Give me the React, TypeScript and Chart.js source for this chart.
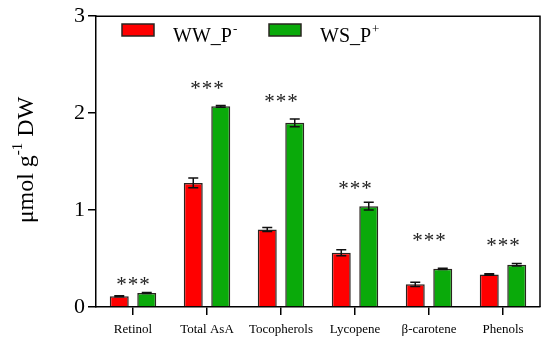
import React, { useEffect, useRef } from 'react';
import { Chart, registerables } from 'chart.js';
Chart.register(...registerables);

const categories = ['Retinol', 'Total AsA', 'Tocopherols', 'Lycopene', 'β-carotene', 'Phenols'];
const wwValues = [0.11, 1.28, 0.8, 0.56, 0.234, 0.336];
const wwErrors = [0.005, 0.05, 0.02, 0.03, 0.022, 0.008];
const wsValues = [0.145, 2.07, 1.9, 1.04, 0.394, 0.437];
const wsErrors = [0.005, 0.01, 0.04, 0.04, 0.006, 0.013];
const starLevels = [0.275, 2.3, 2.157, 1.264, 0.732, 0.671];
const starText = '***';
const seriesNames = ['WW_P', 'WS_P'];
const seriesSup = ['-', '+'];
const yTickValues = [0, 1, 2, 3];
const yTitleMain = 'μmol g';
const yTitleSup = '-1';
const yTitleEnd = ' DW';

const RED = '#FF0000';
const GREEN = '#0AAA0A';
const EDGE = '#2a2420';
const FONT = "'Liberation Serif', 'Times New Roman', serif";

const overlayPlugin = {
  id: 'overlay',
  afterDatasetsDraw(chart: any) {
    const ctx = chart.ctx;
    const ys = chart.scales.y;
    const xs = chart.scales.x;
    const area = chart.chartArea;
    const errs = [wwErrors, wsErrors];
    const vals = [wwValues, wsValues];
    ctx.save();
    // error bars
    ctx.strokeStyle = '#111';
    ctx.lineWidth = 1.5;
    for (let d = 0; d < 2; d++) {
      const meta = chart.getDatasetMeta(d);
      meta.data.forEach((el: any, j: number) => {
        const v = vals[d][j];
        const e = errs[d][j];
        const yT = ys.getPixelForValue(v + e);
        const yB = ys.getPixelForValue(v - e);
        const x = el.x;
        const cw = 5;
        ctx.beginPath();
        ctx.moveTo(x, yT);
        ctx.lineTo(x, yB);
        ctx.moveTo(x - cw, yT);
        ctx.lineTo(x + cw, yT);
        ctx.moveTo(x - cw, yB);
        ctx.lineTo(x + cw, yB);
        ctx.stroke();
      });
    }
    // stars
    ctx.fillStyle = '#222';
    ctx.font = `21px ${FONT}`;
    ctx.textAlign = 'center';
    ctx.textBaseline = 'alphabetic';
    try { (ctx as any).letterSpacing = '1px'; } catch (e) {}
    starLevels.forEach((lv, i) => {
      const x = xs.getPixelForValue(i);
      const y = ys.getPixelForValue(lv);
      ctx.fillText(starText, x + 0.5, y + 10.5);
    });
    try { (ctx as any).letterSpacing = '0px'; } catch (e) {}
    // frame top & right
    ctx.strokeStyle = '#000';
    ctx.lineWidth = 1.5;
    ctx.beginPath();
    ctx.moveTo(area.left, area.top);
    ctx.lineTo(area.right, area.top);
    ctx.lineTo(area.right, area.bottom);
    ctx.stroke();
    // legend
    const colors = [RED, GREEN];
    const boxX = [122, 269];
    const textX = [173, 320];
    for (let i = 0; i < 2; i++) {
      ctx.fillStyle = colors[i];
      ctx.fillRect(boxX[i], 24, 32, 12);
      ctx.strokeStyle = EDGE;
      ctx.lineWidth = 1.5;
      ctx.strokeRect(boxX[i], 24, 32, 12);
      ctx.fillStyle = '#000';
      ctx.textAlign = 'left';
      ctx.font = `20px ${FONT}`;
      ctx.fillText(seriesNames[i], textX[i], 42);
      const w = ctx.measureText(seriesNames[i]).width;
      ctx.font = `13px ${FONT}`;
      ctx.fillText(seriesSup[i], textX[i] + w + 1, 33);
    }
    // y title
    ctx.translate(33, 160);
    ctx.rotate(-Math.PI / 2);
    ctx.fillStyle = '#000';
    ctx.font = `24px ${FONT}`;
    const w1 = ctx.measureText(yTitleMain).width;
    const w3 = ctx.measureText(yTitleEnd).width;
    ctx.font = `15px ${FONT}`;
    const w2 = ctx.measureText(yTitleSup).width;
    const total = w1 + w2 + w3;
    const x0 = -total / 2;
    ctx.textAlign = 'left';
    ctx.font = `24px ${FONT}`;
    ctx.fillText(yTitleMain, x0, 0);
    ctx.font = `15px ${FONT}`;
    ctx.fillText(yTitleSup, x0 + w1, -11);
    ctx.font = `24px ${FONT}`;
    ctx.fillText(yTitleEnd, x0 + w1 + w2, 0);
    ctx.restore();
  },
};

export default function App() {
  const ref = useRef<HTMLCanvasElement | null>(null);
  useEffect(() => {
    if (!ref.current) return;
    const chart = new Chart(ref.current, {
      type: 'bar',
      data: {
        labels: categories,
        datasets: [
          {
            label: seriesNames[0] + seriesSup[0],
            data: wwValues,
            backgroundColor: RED,
            borderColor: EDGE,
            borderWidth: 1.5,
            categoryPercentage: 0.743,
            barPercentage: 0.69,
          },
          {
            label: seriesNames[1] + seriesSup[1],
            data: wsValues,
            backgroundColor: GREEN,
            borderColor: EDGE,
            borderWidth: 1.5,
            categoryPercentage: 0.743,
            barPercentage: 0.69,
          },
        ],
      },
      options: {
        animation: false,
        responsive: false,
        devicePixelRatio: 1,
        layout: { padding: { top: 12, right: 10, left: 0, bottom: 0 } },
        plugins: { legend: { display: false }, tooltip: { enabled: false } },
        scales: {
          x: {
            grid: { display: true, drawOnChartArea: false, offset: false, tickLength: 8, color: '#000', lineWidth: 1.5 },
            border: { display: true, color: '#000', width: 1.5 },
            ticks: { color: '#000', font: { family: FONT, size: 13 }, padding: 7, maxRotation: 0 },
            afterFit: (s: any) => { s.height = 33; },
          },
          y: {
            min: 0,
            max: 3,
            afterBuildTicks: (s: any) => { s.ticks = yTickValues.map((v) => ({ value: v })); },
            grid: { display: true, drawOnChartArea: false, tickLength: 8, color: '#000', lineWidth: 1.5 },
            border: { display: true, color: '#000', width: 1.5 },
            ticks: { color: '#000', font: { family: FONT, size: 22 }, padding: 3 },
            afterFit: (s: any) => { s.width = 96; },
          },
        },
      },
      plugins: [overlayPlugin],
    });
    return () => chart.destroy();
  }, []);
  return (
    <div style={{ position: 'fixed', left: 0, top: 0, width: 550, height: 340, background: '#fff' }}>
      <canvas ref={ref} width={550} height={340} />
    </div>
  );
}
